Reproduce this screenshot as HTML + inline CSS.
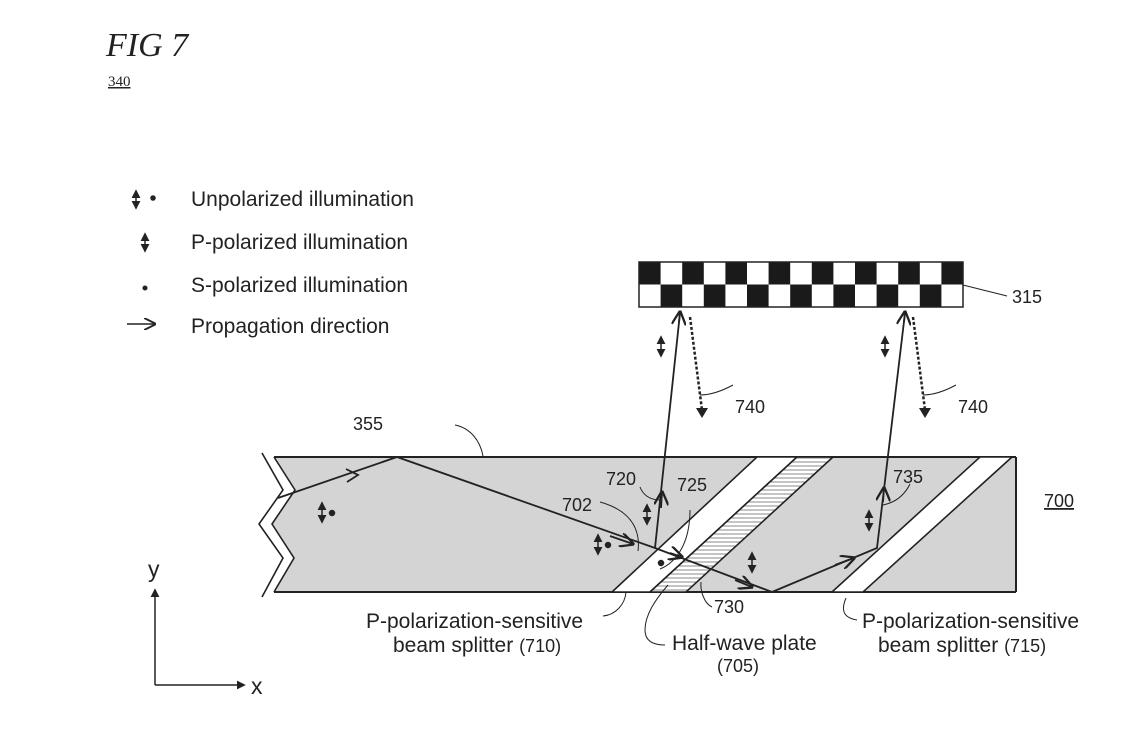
<!DOCTYPE html>
<html><head><meta charset="utf-8"><style>
html,body{margin:0;padding:0;background:#fff;}
svg{display:block}
text{font-family:"Liberation Sans",sans-serif;fill:#222}
</style></head><body>
<svg width="1126" height="747" viewBox="0 0 1126 747" xmlns="http://www.w3.org/2000/svg">
<defs>
<pattern id="hatch" width="6" height="4" patternUnits="userSpaceOnUse"><rect width="6" height="4" fill="#fff"/><line x1="0" y1="2" x2="6" y2="2" stroke="#888" stroke-width="1"/></pattern>
<marker id="ah" viewBox="0 0 10 10" refX="9" refY="5" markerWidth="8" markerHeight="8" orient="auto"><path d="M0,0 L10,5 L0,10" fill="none" stroke="#222" stroke-width="1.6"/></marker>
<marker id="tri" viewBox="0 0 10 10" refX="8" refY="5" markerWidth="6" markerHeight="6" orient="auto-start-reverse"><path d="M0,0 L10,5 L0,10 z" fill="#222"/></marker>
</defs>
<text x="106" y="56" style="font-family:'Liberation Serif',serif;font-style:italic;font-size:34px">FIG 7</text>
<text x="108" y="86" style="font-family:'Liberation Serif',serif;font-size:15px;text-decoration:underline">340</text>

<!-- legend -->
<g stroke="#222" stroke-width="1.5" fill="#222">
<line x1="136" y1="191" x2="136" y2="208" marker-start="url(#tri)" marker-end="url(#tri)"/><circle cx="153" cy="198" r="2"/>
<line x1="145" y1="234" x2="145" y2="251" marker-start="url(#tri)" marker-end="url(#tri)"/>
<circle cx="145" cy="288" r="1.8"/>
<line x1="127" y1="324" x2="155" y2="324" marker-end="url(#ah)"/>
</g>
<g style="font-size:21px">
<text x="191" y="206">Unpolarized illumination</text>
<text x="191" y="249">P-polarized illumination</text>
<text x="191" y="292">S-polarized illumination</text>
<text x="191" y="333">Propagation direction</text>
</g>

<!-- checkerboard -->
<g fill="#1a1a1a">
<rect x="639" y="262" width="21.6" height="22.5"/><rect x="682.2" y="262" width="21.6" height="22.5"/><rect x="725.4" y="262" width="21.6" height="22.5"/><rect x="768.6" y="262" width="21.6" height="22.5"/><rect x="811.8" y="262" width="21.6" height="22.5"/><rect x="855" y="262" width="21.6" height="22.5"/><rect x="898.2" y="262" width="21.6" height="22.5"/><rect x="941.4" y="262" width="21.6" height="22.5"/>
<rect x="660.6" y="284.5" width="21.6" height="22.5"/><rect x="703.8" y="284.5" width="21.6" height="22.5"/><rect x="747" y="284.5" width="21.6" height="22.5"/><rect x="790.2" y="284.5" width="21.6" height="22.5"/><rect x="833.4" y="284.5" width="21.6" height="22.5"/><rect x="876.6" y="284.5" width="21.6" height="22.5"/><rect x="919.8" y="284.5" width="21.6" height="22.5"/>
</g>
<rect x="639" y="262" width="324" height="45" fill="none" stroke="#222" stroke-width="1.5"/>
<line x1="963" y1="285" x2="1007" y2="296" stroke="#222" stroke-width="1"/>
<text x="1012" y="303" style="font-size:18px">315</text>

<!-- waveguide -->
<path d="M274,457 L1016,457 L1016,592 L274,592 L294,558 L272,524 L295,490 Z" fill="#d4d4d4" stroke="none"/>
<line x1="274" y1="457" x2="1016" y2="457" stroke="#222" stroke-width="2"/>
<line x1="274" y1="592" x2="1016" y2="592" stroke="#222" stroke-width="2"/>
<line x1="1016" y1="457" x2="1016" y2="592" stroke="#222" stroke-width="2"/>
<polyline points="262,453 283,490 259,524 283,558 262,597" fill="none" stroke="#222" stroke-width="1.6"/>
<polyline points="274,457 295,490 272,524 294,558 274,592" fill="none" stroke="#222" stroke-width="1.6"/>
<polygon points="612,592 757,457 797,457 650,592" fill="#fff" stroke="#222" stroke-width="1.6"/>
<polygon points="650,592 797,457 833,457 686,592" fill="url(#hatch)" stroke="#222" stroke-width="1.6"/>
<polygon points="832,592 980,457 1012,457 863,592" fill="#fff" stroke="#222" stroke-width="1.6"/>

<!-- rays -->
<g stroke="#222" stroke-width="1.8" fill="none">
<polyline points="278,498 397,457 655,548 772,592 877,548 905,313"/>
<line x1="655" y1="548" x2="680" y2="313"/>
<line x1="610" y1="536" x2="633" y2="544" marker-end="url(#ah)"/>
<line x1="670" y1="553" x2="682" y2="557" marker-end="url(#ah)"/>
<line x1="735" y1="580" x2="752" y2="587" marker-end="url(#ah)"/>
<line x1="835" y1="565" x2="854" y2="558" marker-end="url(#ah)"/>
<line x1="661" y1="508" x2="662" y2="492" marker-end="url(#ah)"/>
<line x1="883" y1="502" x2="884" y2="488" marker-end="url(#ah)"/>
<line x1="679" y1="322" x2="680" y2="312" marker-end="url(#ah)"/>
<line x1="904" y1="322" x2="905" y2="312" marker-end="url(#ah)"/>
<line x1="690" y1="317" x2="702" y2="410" stroke-dasharray="3,2" stroke-width="2.5"/>
<line x1="913" y1="317" x2="925" y2="410" stroke-dasharray="3,2" stroke-width="2.5"/>
</g>
<path d="M696,408 L708,408 L702,418 Z M919,408 L931,408 L925,418 Z" fill="#222"/>
<path d="M346,469 L358,475 L347,482" fill="none" stroke="#222" stroke-width="1.8"/>

<!-- polarization symbols -->
<g stroke="#222" stroke-width="1.5" fill="#222">
<line x1="322" y1="503" x2="322" y2="522" marker-start="url(#tri)" marker-end="url(#tri)"/><circle cx="332" cy="513" r="2.5"/>
<line x1="598" y1="535" x2="598" y2="554" marker-start="url(#tri)" marker-end="url(#tri)"/><circle cx="608" cy="545" r="2.5"/>
<line x1="647" y1="505" x2="647" y2="524" marker-start="url(#tri)" marker-end="url(#tri)"/>
<circle cx="661" cy="563" r="2.5"/>
<line x1="752" y1="553" x2="752" y2="572" marker-start="url(#tri)" marker-end="url(#tri)"/>
<line x1="869" y1="511" x2="869" y2="530" marker-start="url(#tri)" marker-end="url(#tri)"/>
<line x1="661" y1="337" x2="661" y2="356" marker-start="url(#tri)" marker-end="url(#tri)"/>
<line x1="885" y1="337" x2="885" y2="356" marker-start="url(#tri)" marker-end="url(#tri)"/>
</g>

<!-- leaders -->
<g stroke="#222" stroke-width="1" fill="none">
<path d="M483,456 C480,440 470,428 455,425"/>
<path d="M700,395 C710,395 720,392 733,385"/>
<path d="M923,395 C933,395 943,392 956,385"/>
<path d="M660,500 C650,500 643,495 640,487"/>
<path d="M638,551 C640,535 636,512 600,502"/>
<path d="M660,569 C675,563 690,545 690,510"/>
<path d="M883,505 C893,503 903,498 910,484"/>
<path d="M701,582 C700,592 705,604 712,607"/>
<path d="M626,592 C625,605 615,615 603,616"/>
<path d="M668,585 C655,600 645,615 645,630 C645,642 655,645 665,645"/>
<path d="M846,598 C840,612 845,618 857,620"/>
</g>
<g style="font-size:18px">
<text x="353" y="430">355</text>
<text x="735" y="413">740</text>
<text x="958" y="413">740</text>
<text x="606" y="485">720</text>
<text x="677" y="491">725</text>
<text x="562" y="511">702</text>
<text x="893" y="483">735</text>
<text x="714" y="613">730</text>
<text x="1044" y="507" style="text-decoration:underline">700</text>
</g>
<g style="font-size:21px">
<text x="366" y="628">P-polarization-sensitive</text>
<text x="393" y="652">beam splitter <tspan style="font-size:18px">(710)</tspan></text>
<text x="672" y="650">Half-wave plate</text>
<text x="717" y="672" style="font-size:18px">(705)</text>
<text x="862" y="628">P-polarization-sensitive</text>
<text x="878" y="652">beam splitter <tspan style="font-size:18px">(715)</tspan></text>
<text x="251" y="694" style="font-size:23px">x</text>
<text x="148" y="577" style="font-size:23px">y</text>
</g>
<g stroke="#222" stroke-width="1.5">
<line x1="155" y1="685" x2="155" y2="590" marker-end="url(#tri)"/>
<line x1="155" y1="685" x2="244" y2="685" marker-end="url(#tri)"/>
</g>
</svg>
</body></html>
